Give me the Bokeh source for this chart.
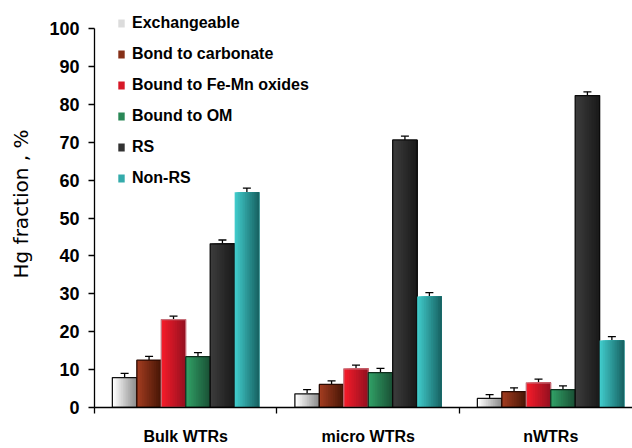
import numpy as np
from bokeh.plotting import figure
from bokeh.models import (ColumnDataSource, FixedTicker, LinearAxis, Range1d,
                          Whisker, TeeHead, Legend, LegendItem)
from bokeh.embed import file_html
from bokeh.resources import INLINE

# Mercury fractionation in the three WTR particle sizes (% of total Hg)
categories = ["Bulk WTRs", "micro WTRs", "nWTRs"]
fractions = ["Exchangeable", "Bond to carbonate", "Bound to Fe-Mn oxides",
             "Bound to OM", "RS", "Non-RS"]

exchangeable = [7.9, 3.6, 2.4]
carbonate = [12.5, 6.1, 4.2]
fe_mn_oxides = [23.2, 10.2, 6.5]
organic_matter = [13.4, 9.2, 4.7]
residual = [43.2, 70.6, 82.3]
non_residual = [56.8, 29.3, 17.7]

err_exchangeable = [1.1, 1.1, 1.0]
err_carbonate = [1.0, 0.9, 1.0]
err_fe_mn_oxides = [0.9, 1.0, 1.0]
err_organic_matter = [1.1, 1.1, 1.0]
err_residual = [1.0, 1.0, 1.0]
err_non_residual = [1.1, 1.0, 1.0]

series = [exchangeable, carbonate, fe_mn_oxides, organic_matter, residual, non_residual]
errors = [err_exchangeable, err_carbonate, err_fe_mn_oxides, err_organic_matter,
          err_residual, err_non_residual]

# left -> right shading of each bar, plus its edge colour
shades = [("#ffffff", "#8e8e8e", "#111111"),
          ("#a23c20", "#481606", "#2a0a02"),
          ("#f41c2a", "#961020", "#c7707a"),
          ("#31a066", "#1a5236", "#0e2e1c"),
          ("#3c3c3c", "#1a1a1a", "#0a0a0a"),
          ("#40caca", "#186464", None)]

BOLD_FONT = "Liberation Sans"


def mix(c1, c2, t):
    a = np.array([int(c1[i:i + 2], 16) for i in (1, 3, 5)], dtype=float)
    b = np.array([int(c2[i:i + 2], 16) for i in (1, 3, 5)], dtype=float)
    c = np.round(a + (b - a) * t).astype(int)
    return "#%02x%02x%02x" % tuple(c)


p = figure(width=632, height=448, x_range=Range1d(0, 2.948), y_range=Range1d(0, 107.4),
           x_axis_type=None, y_axis_type=None, output_backend="svg",
           toolbar_location=None, min_border_left=94, min_border_right=0,
           min_border_top=0, min_border_bottom=41)
p.outline_line_color = None
p.background_fill_color = "white"

bar_w = 0.134
n_slices = 14
groups = np.arange(len(categories))
legend_items = []

for j, (vals, errs, (c_left, c_right, edge)) in enumerate(zip(series, errors, shades)):
    centers = groups + 0.5 + (j - 2.5) * bar_w
    # each strip runs from its own left edge to the bar's right edge, so that
    # later (darker) strips overlap the earlier ones without seams
    lefts, rights, tops, cols = [], [], [], []
    for k in range(n_slices):
        t = k / (n_slices - 1)
        for cx, v in zip(centers, vals):
            lefts.append(cx - bar_w / 2 + k * bar_w / n_slices)
            rights.append(cx + bar_w / 2)
            tops.append(v)
            cols.append(mix(c_left, c_right, t))
    src = ColumnDataSource(dict(left=lefts, right=rights, top=tops, color=cols))
    r = p.quad(left="left", right="right", top="top", bottom=0,
               fill_color="color", line_color=None, source=src)
    if edge is not None:
        p.vbar(x=centers, top=vals, width=bar_w, bottom=0, fill_color=None,
               line_color=edge, line_width=1.3)
    esrc = ColumnDataSource(dict(x=centers, lo=np.array(vals) - np.array(errs),
                                 hi=np.array(vals) + np.array(errs)))
    w = Whisker(base="x", lower="lo", upper="hi", source=esrc, line_color="black",
                line_width=1.3,
                upper_head=TeeHead(size=8, line_width=1.3, line_color="black"),
                lower_head=TeeHead(size=8, line_width=1.3, line_color="black"))
    p.add_layout(w)
    legend_items.append(LegendItem(label=fractions[j], renderers=[r],
                                   index=(n_slices // 3) * len(categories)))

yaxis = LinearAxis(ticker=FixedTicker(ticks=list(range(0, 101, 10)), minor_ticks=[]),
                   bounds=(0, 100), axis_label="Hg fraction , %")
yaxis.major_tick_out = 6
yaxis.major_tick_in = 0
yaxis.major_tick_line_width = 1.3
yaxis.axis_line_width = 1.3
yaxis.major_label_standoff = 9
yaxis.major_label_text_font = BOLD_FONT
yaxis.major_label_text_font_style = "bold"
yaxis.major_label_text_font_size = "18px"
yaxis.major_label_text_color = "black"
yaxis.axis_label_text_font = "DejaVu Sans"
yaxis.axis_label_text_font_style = "normal"
yaxis.axis_label_text_font_size = "20px"
yaxis.axis_label_text_color = "black"
yaxis.axis_label_standoff = 13
p.add_layout(yaxis, "left")

xaxis = LinearAxis(ticker=FixedTicker(ticks=[0.5, 1.5, 2.5], minor_ticks=[0, 1, 2]),
                   major_label_overrides={0.5: categories[0], 1.5: categories[1],
                                          2.5: categories[2]})
xaxis.major_tick_out = 0
xaxis.major_tick_in = 0
xaxis.minor_tick_out = 6
xaxis.minor_tick_in = 0
xaxis.minor_tick_line_color = "black"
xaxis.minor_tick_line_width = 1.3
xaxis.axis_line_width = 1.3
xaxis.major_label_standoff = 14
xaxis.major_label_text_font = BOLD_FONT
xaxis.major_label_text_font_style = "bold"
xaxis.major_label_text_font_size = "16px"
xaxis.major_label_text_color = "black"
p.add_layout(xaxis, "below")

legend = Legend(items=legend_items, location=(23, 219), orientation="vertical",
                glyph_width=8, glyph_height=10, label_standoff=7,
                label_text_font=BOLD_FONT, label_text_font_style="bold",
                label_text_font_size="16px", label_text_color="black",
                label_height=21, spacing=10, padding=0, margin=0,
                border_line_color=None, background_fill_alpha=0)
p.add_layout(legend)

open("out.html", "w").write(file_html(p, INLINE))
